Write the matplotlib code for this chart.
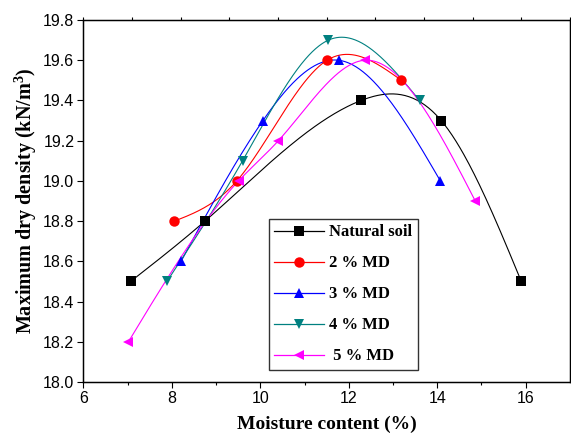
import numpy as np
import matplotlib
matplotlib.use("Agg")
import matplotlib.pyplot as plt
from matplotlib.lines import Line2D

# ---- data ----
labels = ["Natural soil", "2 % MD", "3 % MD", "4 % MD", " 5 % MD"]
x_nat = [7.07, 8.75, 12.28, 14.09, 15.90]
y_nat = [18.5, 18.8, 19.4, 19.3, 18.5]
x_md2 = [8.06, 9.47, 11.51, 13.19]
y_md2 = [18.8, 19.0, 19.6, 19.5]
x_md3 = [8.21, 10.06, 11.77, 14.07]
y_md3 = [18.6, 19.3, 19.6, 19.0]
x_md4 = [7.89, 9.60, 11.54, 13.60]
y_md4 = [18.5, 19.1, 19.7, 19.4]
x_md5 = [7.02, 9.51, 10.41, 12.37, 14.86]
y_md5 = [18.2, 19.0, 19.2, 19.6, 18.9]
x_ticks = [6, 8, 10, 12, 14, 16]
y_ticks = [18.0, 18.2, 18.4, 18.6, 18.8, 19.0, 19.2, 19.4, 19.6, 19.8]

series = [(x_nat, y_nat), (x_md2, y_md2), (x_md3, y_md3), (x_md4, y_md4), (x_md5, y_md5)]
colors = ["#000000", "#FF0000", "#0000FF", "#008080", "#FF00FF"]
markers = ["s", "o", "^", "v", "<"]
msizes = [6.5, 7.5, 7.5, 7.5, 7.5]


def natural_spline(x, y, n=300):
    x = np.asarray(x, float)
    y = np.asarray(y, float)
    m = len(x)
    h = np.diff(x)
    A = np.zeros((m, m))
    b = np.zeros(m)
    A[0, 0] = 1.0
    A[-1, -1] = 1.0
    for i in range(1, m - 1):
        A[i, i - 1] = h[i - 1]
        A[i, i] = 2 * (h[i - 1] + h[i])
        A[i, i + 1] = h[i]
        b[i] = 6 * ((y[i + 1] - y[i]) / h[i] - (y[i] - y[i - 1]) / h[i - 1])
    M = np.linalg.solve(A, b)
    xs = np.linspace(x[0], x[-1], n)
    idx = np.clip(np.searchsorted(x, xs) - 1, 0, m - 2)
    x0, x1 = x[idx], x[idx + 1]
    hh = x1 - x0
    t0 = x1 - xs
    t1 = xs - x0
    ys = (M[idx] * t0 ** 3 + M[idx + 1] * t1 ** 3) / (6 * hh) \
        + (y[idx] / hh - M[idx] * hh / 6) * t0 \
        + (y[idx + 1] / hh - M[idx + 1] * hh / 6) * t1
    return xs, ys


plt.rcParams["font.family"] = ["Liberation Sans", "DejaVu Sans"]
plt.rcParams["mathtext.fontset"] = "custom"
plt.rcParams["mathtext.rm"] = "Liberation Serif:bold"
plt.rcParams["mathtext.bf"] = "Liberation Serif:bold"

fig = plt.figure(figsize=(5.71, 4.34), dpi=100)
ax = fig.add_axes([0.1459, 0.1198, 0.8523, 0.8341])

for (xs, ys), c in zip(series, colors):
    sx, sy = natural_spline(xs, ys)
    ax.plot(sx, sy, color=c, lw=0.8, zorder=2)
for (xs, ys), c, mk, ms in zip(series, colors, markers, msizes):
    ax.plot(xs, ys, linestyle="none", marker=mk, color=c, markersize=ms,
            markeredgewidth=0, zorder=3)

ax.set_xlim(6, 17)
ax.set_ylim(18.0, 19.8)
ax.set_xticks(x_ticks)
ax.set_xticks([7, 9, 11, 13, 15], minor=True)
ax.set_yticks(y_ticks)
ax.set_yticklabels([f"{v:.1f}" for v in y_ticks])
ax.tick_params(axis="both", which="major", direction="out", length=4, width=0.8,
               labelsize=11.5, colors="black", pad=2.5)
ax.tick_params(axis="x", which="minor", direction="out", length=2.5, width=0.8)
for s in ax.spines.values():
    s.set_linewidth(1.0)

top = ax.twiny()
top.set_xlim(6, 17)
top.set_xticks(np.linspace(6, 17, 11))
top.tick_params(axis="x", direction="out", length=2, width=0.8, labeltop=False)

ax.set_xlabel("Moisture content (%)", family="Liberation Serif", fontweight="bold",
              fontsize=14, labelpad=7)
ax.set_ylabel("Maximum dry density (kN/m$^3$)", family="Liberation Serif",
              fontweight="bold", fontsize=14.5, labelpad=3)

handles = [Line2D([], [], color=c, lw=0.9, marker=mk, markersize=ms, markeredgewidth=0)
           for c, mk, ms in zip(colors, markers, msizes)]
leg = ax.legend(handles, labels, loc="upper left", bbox_to_anchor=(0.3816, 0.450),
                borderaxespad=0, frameon=True, fancybox=False, handlelength=3.0,
                handletextpad=0.3, labelspacing=0.9, borderpad=0.32,
                prop={"family": "Liberation Serif", "weight": "bold", "size": 12})
leg.get_frame().set_edgecolor("black")
leg.get_frame().set_linewidth(1.0)

fig.savefig("out.png", dpi=100)
